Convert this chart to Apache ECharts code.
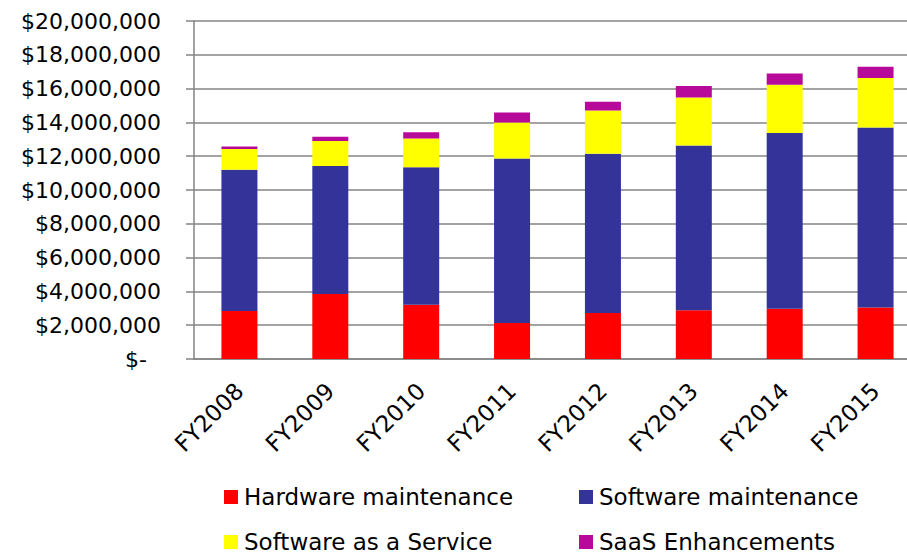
<!DOCTYPE html>
<html lang="en" style="height: 100%">
   <head>
      <meta charset="utf-8">
   </head>
   <body style="height: 100%; margin: 0">
      <div id="container" style="width: 907px; height: 555px"></div>
      <script type="text/javascript" src="https://fastly.jsdelivr.net/npm/echarts@6/dist/echarts.min.js"></script>
      <script type="text/javascript">
var years = ['FY2008', 'FY2009', 'FY2010', 'FY2011', 'FY2012', 'FY2013', 'FY2014', 'FY2015'];
var hardware = [2840000, 3850000, 3210000, 2130000, 2720000, 2880000, 2980000, 3050000];
var software = [8360000, 7570000, 8130000, 9740000, 9430000, 9760000, 10390000, 10650000];
var saas = [1230000, 1480000, 1700000, 2130000, 2560000, 2840000, 2860000, 2930000];
var enhancements = [150000, 250000, 370000, 590000, 510000, 670000, 670000, 670000];
var names = ['Hardware maintenance', 'Software maintenance', 'Software as a Service', 'SaaS Enhancements'];

         var dom = document.getElementById('container');
         var myChart = echarts.init(dom, null, {
           renderer: 'svg',
           useDirtyRect: false
         });
var font = 'DejaVu Sans';
var gray = '#858585';

function legendAt(name, left, top) {
  return {
    data: [name],
    left: left,
    top: top,
    padding: 0,
    icon: 'rect',
    itemWidth: 14,
    itemHeight: 14,
    itemGap: 0,
    selectedMode: false,
    textStyle: {
      fontFamily: font,
      fontSize: 23,
      color: '#000',
      lineHeight: 24,
      padding: [0, 0, 0, 1]
    }
  };
}

function bar(name, data) {
  return {
    name: name,
    type: 'bar',
    stack: 'total',
    barWidth: 36,
    data: data
  };
}

var option = {
  animation: false,
  color: ['#ff0000', '#333399', '#ffff00', '#b7099a'],
  grid: {
    left: 194,
    top: 21,
    width: 727,
    height: 338,
    containLabel: false,
    outerBoundsMode: 'none'
  },
  legend: [
    legendAt(names[0], 224, 485),
    legendAt(names[1], 579, 485),
    legendAt(names[2], 224, 530),
    legendAt(names[3], 579, 530)
  ],
  xAxis: {
    type: 'category',
    data: years,
    axisLine: {
      lineStyle: { color: gray, width: 1.5 }
    },
    axisTick: {
      length: 8,
      lineStyle: { color: gray, width: 1.5 }
    },
    axisLabel: {
      rotate: 45,
      margin: 28,
      interval: 0,
      fontFamily: font,
      fontSize: 23,
      color: '#000'
    }
  },
  yAxis: {
    type: 'value',
    min: 0,
    max: 20000000,
    interval: 2000000,
    axisLine: {
      show: true,
      lineStyle: { color: gray, width: 1.5 }
    },
    axisTick: {
      show: true,
      length: 8,
      lineStyle: { color: gray, width: 1.5 }
    },
    splitLine: {
      lineStyle: { color: gray, width: 1.5 }
    },
    axisLabel: {
      margin: 33,
      fontFamily: font,
      fontSize: 22,
      color: '#000',
      formatter: function (v) {
        if (v === 0) return '$-  ';
        return '$' + v.toLocaleString('en-US');
      }
    }
  },
  series: [
    bar(names[0], hardware),
    bar(names[1], software),
    bar(names[2], saas),
    bar(names[3], enhancements)
  ]
};
         if (option && typeof option === 'object') {
           myChart.setOption(option);
         }
         window.addEventListener('resize', myChart.resize);
      </script>
   </body>
</html>
